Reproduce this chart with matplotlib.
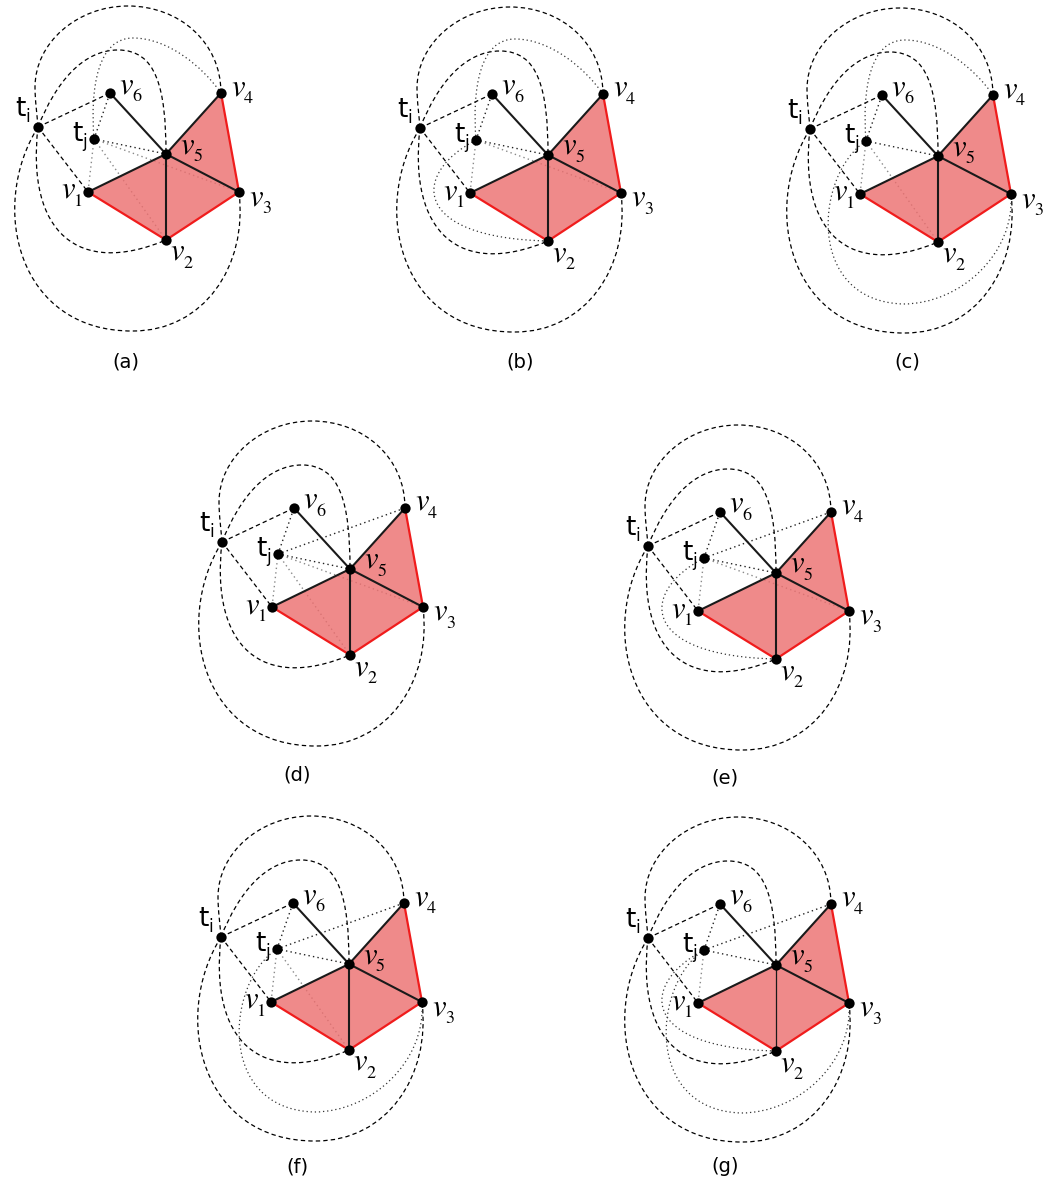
import numpy as np
import matplotlib.pyplot as plt
from matplotlib.path import Path
from matplotlib.patches import PathPatch, Polygon

# node layout (pixels, relative to t_i)
nodes = ['ti', 'tj', 'v1', 'v2', 'v3', 'v4', 'v5', 'v6']
node_x = [0, 56, 50, 128, 201, 183, 128, 72]
node_y = [0, 12, 65, 113, 65, -34, 27, -34]

panels = ['(a)', '(b)', '(c)', '(d)', '(e)', '(f)', '(g)']
origin_x = [38, 420, 810, 222, 648, 221, 648]
origin_y = [127, 128, 129, 542, 546, 937, 938]
caption_x = [126, 520, 907, 297, 725, 297, 725]
caption_y = [362, 362, 362, 775, 778, 1167, 1167]

# face of the embedding and its edges
face = ['v1', 'v5', 'v4', 'v3', 'v2']
red_edges = [('v1', 'v2'), ('v2', 'v3'), ('v3', 'v4')]
black_edges = [('v5', 'v6'), ('v5', 'v4'), ('v5', 'v1'), ('v5', 'v2'), ('v5', 'v3')]
ti_straight = ['v6', 'v1']

# t_j edges per panel: straight segments and routed curves
tj_straight = [
    ['v6', 'v5', 'v3', 'v2', 'v1'],
    ['v6', 'v5', 'v3', 'v1'],
    ['v6', 'v5', 'v2', 'v1'],
    ['v6', 'v4', 'v5', 'v3', 'v2', 'v1'],
    ['v6', 'v4', 'v5', 'v3', 'v1'],
    ['v6', 'v4', 'v5', 'v2', 'v1'],
    ['v6', 'v4', 'v5', 'v1'],
]
tj_curved = [['top'], ['top', 'loop2'], ['top', 'loop3'], [],
             ['loop2'], ['loop3'], ['loop2', 'loop3']]

# cubic bezier routes: start point, then (ctrl, ctrl, end) triples
ti_routes = {
    'v4': [(0, 0), (-1, -13), (-3, -27), (-3, -40), (-3, -84), (39, -121),
           (90, -121), (141, -121), (183, -85), (183, -34)],
    'v5': [(0, 0), (18, -45), (45, -77), (80, -77), (118, -77), (128, -40), (128, 27)],
    'v2': [(0, 0), (-12, 105), (40, 150), (128, 113)],
    'v3': [(0, 0), (-50, 80), (-20, 205), (95, 204), (165, 204), (210, 140), (201, 65)],
}
tj_routes = {
    'top': [(56, 12), (52, -40), (60, -89), (95, -89), (130, -89), (165, -60), (183, -34)],
    'loop2': [(56, 12), (-8, 45), (-10, 110), (128, 113)],
    'loop3': [(56, 12), (5, 45), (-5, 172), (93, 175), (150, 175), (205, 125), (201, 65)],
}

# label: main glyph, subscript, offset of main glyph (left, baseline) from node
labels = {
    'ti': ('t', 'i', -23, -11),
    'tj': ('t', 'j', -22, 2),
    'v1': ('v', '1', -27, 6),
    'v2': ('v', '2', 4, 20),
    'v3': ('v', '3', 10, 13),
    'v4': ('v', '4', 10, 2),
    'v5': ('v', '5', 14, -1),
    'v6': ('v', '6', 9, 0),
}

DASH = (0, (3.5, 2.5))
DOT = (0, (1, 2.3))

fig = plt.figure(figsize=(10.43, 11.80), dpi=100)
ax = fig.add_axes([0, 0, 1, 1])
ax.set_xlim(0, 1043)
ax.set_ylim(1180, 0)
ax.axis('off')


def route_path(pts, ox, oy):
    verts = [(ox + px, oy + py) for px, py in pts]
    codes = [Path.MOVETO] + [Path.CURVE4] * (len(verts) - 1)
    return Path(verts, codes)


def draw_label(x, y, main, sub):
    if main == 't':
        ax.text(x, y, main, fontsize=19, family='DejaVu Sans', ha='left',
                va='baseline', zorder=5)
        ax.text(x + 10, y + 6, sub, fontsize=12, family='DejaVu Sans',
                ha='left', va='baseline', zorder=5)
    else:
        ax.text(x, y, main, fontsize=22, family='STIXGeneral', style='italic',
                ha='left', va='baseline', zorder=5)
        ax.text(x + 13, y + 8, sub, fontsize=13, family='STIXGeneral',
                ha='left', va='baseline', zorder=5)


for k, name in enumerate(panels):
    ox, oy = origin_x[k], origin_y[k]
    pos = {n: (ox + x, oy + y) for n, x, y in zip(nodes, node_x, node_y)}

    # edges from t_i
    for v in ti_straight:
        (x0, y0), (x1, y1) = pos['ti'], pos[v]
        ax.plot([x0, x1], [y0, y1], color='black', lw=0.9, ls=DASH, zorder=1)
    for v, pts in ti_routes.items():
        ax.add_patch(PathPatch(route_path(pts, ox, oy), fill=False,
                               ec='black', lw=0.9, ls=DASH, zorder=1))

    # edges from t_j
    for v in tj_straight[k]:
        (x0, y0), (x1, y1) = pos['tj'], pos[v]
        c = '#8a8a8a' if v in ('v1', 'v2', 'v3') else '#222222'
        ax.plot([x0, x1], [y0, y1], color=c, lw=1.0, ls=DOT, zorder=1)
    for r in tj_curved[k]:
        ax.add_patch(PathPatch(route_path(tj_routes[r], ox, oy), fill=False,
                               ec='#333333', lw=0.9, ls=DOT, zorder=1))

    # shaded face
    ax.add_patch(Polygon([pos[n] for n in face], closed=True,
                         fc=(236 / 255, 109 / 255, 109 / 255), alpha=0.8,
                         ec='none', zorder=2))

    for a, b in red_edges:
        ax.plot([pos[a][0], pos[b][0]], [pos[a][1], pos[b][1]],
                color='#f01c1c', lw=1.6, solid_capstyle='round', zorder=3)
    for a, b in black_edges:
        w = 0.9 if (name == '(g)' and b == 'v2') else 1.5
        ax.plot([pos[a][0], pos[b][0]], [pos[a][1], pos[b][1]],
                color='#1a1a1a', lw=w, solid_capstyle='round', zorder=3)

    xs = [pos[n][0] for n in nodes]
    ys = [pos[n][1] for n in nodes]
    ax.scatter(xs, ys, s=55, color='black', zorder=4, linewidths=0)

    for n, (main, sub, dx, dy) in labels.items():
        x, y = pos[n]
        draw_label(x + dx, y + dy, main, sub)

    ax.text(caption_x[k], caption_y[k], name, fontsize=14, ha='center',
            va='center', family='DejaVu Sans')

fig.savefig('out.png', dpi=100)
